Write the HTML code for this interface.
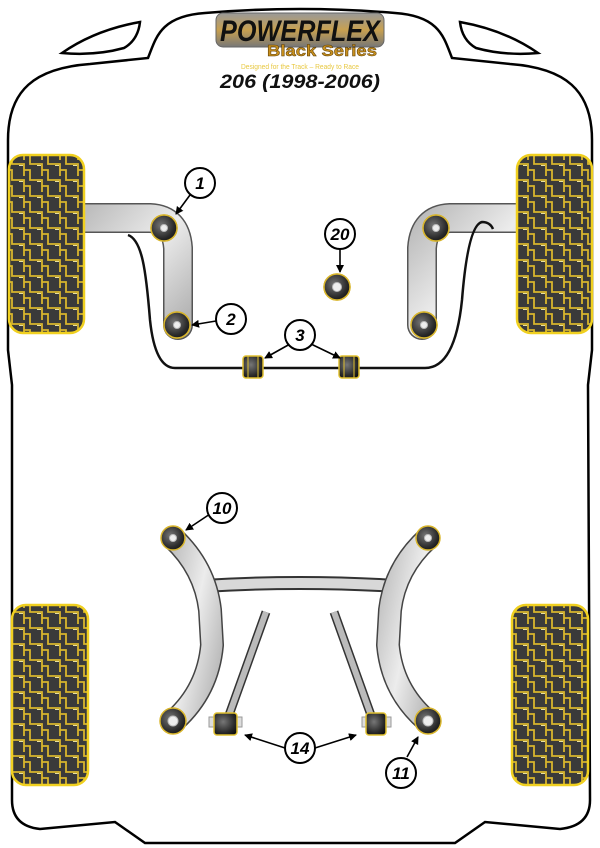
<!DOCTYPE html>
<html><head><meta charset="utf-8"><style>
html,body{margin:0;padding:0;background:#fff;}
svg{display:block;}
text{font-family:"Liberation Sans",sans-serif;}
</style></head><body>
<svg width="600" height="848" viewBox="0 0 600 848" xmlns="http://www.w3.org/2000/svg">
<defs>
<pattern id="tread" width="18" height="16" patternUnits="userSpaceOnUse">
<rect width="18" height="16" fill="#3a3a3a"/>
<path d="M0,4 H6 V10 H12 V16 M12,0 V4 H18 M6,10 V16" stroke="#d8b52c" stroke-width="1.8" fill="none"/>
<path d="M1,5.5 H5" stroke="#e8e0a0" stroke-width="1" />
</pattern>
<linearGradient id="arm" x1="0" y1="0" x2="1" y2="1">
<stop offset="0" stop-color="#bdbdbd"/><stop offset="0.5" stop-color="#ececec"/><stop offset="1" stop-color="#b5b5b5"/>
</linearGradient>
<radialGradient id="bush" cx="0.4" cy="0.4" r="0.7">
<stop offset="0" stop-color="#777"/><stop offset="0.7" stop-color="#2a2a2a"/><stop offset="1" stop-color="#111"/>
</radialGradient>
<linearGradient id="plate" x1="0" y1="0" x2="0" y2="1">
<stop offset="0" stop-color="#999"/><stop offset="0.5" stop-color="#c8a050"/><stop offset="1" stop-color="#777"/>
</linearGradient>
<marker id="ah" markerWidth="8" markerHeight="8" refX="7" refY="4" orient="auto" markerUnits="userSpaceOnUse">
<path d="M0,0 L8,4 L0,8 Z" fill="#000"/>
</marker>
</defs>

<path d="M8,140 C8,90 35,68 90,64 L148,58 C156,38 160,16 205,13 Q300,5 395,13 C440,16 444,38 452,58 L510,64 C565,68 592,90 592,140 L592,350 L588,385 L590,800 Q590,826 560,829 L485,822 L455,843 L145,843 L115,822 L40,829 Q12,826 12,800 L12,385 L8,350 Z" fill="none" stroke="#000" stroke-width="2.5"/>
<path d="M62,53 Q95,30 140,22 Q138,40 124,48 Q95,56 62,53 Z" fill="none" stroke="#000" stroke-width="2.5"/>
<path d="M538,53 Q505,30 460,22 Q462,40 476,48 Q505,56 538,53 Z" fill="none" stroke="#000" stroke-width="2.5"/>

<rect x="216" y="13" width="168" height="34" rx="7" fill="url(#plate)" stroke="#666" stroke-width="1"/>
<text x="300" y="41" font-size="30" font-weight="bold" font-style="italic" text-anchor="middle" fill="#111" textLength="160" lengthAdjust="spacingAndGlyphs">POWERFLEX</text>
<text x="322" y="56" font-size="16" font-weight="bold" text-anchor="middle" fill="#c8901e" stroke="#5a3a00" stroke-width="0.5" textLength="110" lengthAdjust="spacingAndGlyphs">Black Series</text>
<text x="300" y="69" font-size="7.5" text-anchor="middle" fill="#e8c840" textLength="118" lengthAdjust="spacingAndGlyphs">Designed for the Track – Ready to Race</text>
<text x="300" y="88" font-size="19" font-weight="bold" font-style="italic" text-anchor="middle" fill="#111" textLength="160" lengthAdjust="spacingAndGlyphs">206 (1998-2006)</text>

<path d="M80,218 L150,218 Q176,219 178,248 L178,325" fill="none" stroke="#555" stroke-width="30" stroke-linejoin="round" stroke-linecap="round"/>
<path d="M80,218 L150,218 Q176,219 178,248 L178,325" fill="none" stroke="url(#arm)" stroke-width="27" stroke-linejoin="round" stroke-linecap="round"/>
<path d="M520,218 L450,218 Q424,219 422,248 L422,325" fill="none" stroke="#555" stroke-width="30" stroke-linejoin="round" stroke-linecap="round"/>
<path d="M520,218 L450,218 Q424,219 422,248 L422,325" fill="none" stroke="url(#arm)" stroke-width="27" stroke-linejoin="round" stroke-linecap="round"/>

<rect x="9" y="155" width="75" height="178" rx="14" fill="url(#tread)" stroke="#f0d020" stroke-width="2.5"/>
<rect x="517" y="155" width="75" height="178" rx="14" fill="url(#tread)" stroke="#f0d020" stroke-width="2.5"/>
<rect x="12" y="605" width="76" height="180" rx="14" fill="url(#tread)" stroke="#f0d020" stroke-width="2.5"/>
<rect x="512" y="605" width="76" height="180" rx="14" fill="url(#tread)" stroke="#f0d020" stroke-width="2.5"/>

<path d="M128,235 C142,240 146,270 150,320 Q155,368 175,368 L425,368 Q455,368 462,300 Q468,225 482,222 Q490,222 493,229" fill="none" stroke="#111" stroke-width="2.5"/>

<g stroke="#d8b52c" stroke-width="1.5">
<circle cx="164" cy="228" r="13"/>
<circle cx="177" cy="325" r="13"/>
<circle cx="436" cy="228" r="13"/>
<circle cx="424" cy="325" r="13"/>
<circle cx="337" cy="287" r="13"/>
</g>
<g stroke="#d8b52c" stroke-width="1.5" fill="url(#bush)">
<circle cx="164" cy="228" r="13"/>
<circle cx="177" cy="325" r="13"/>
<circle cx="436" cy="228" r="13"/>
<circle cx="424" cy="325" r="13"/>
<circle cx="337" cy="287" r="13"/>
</g>
<g fill="#eee" stroke="#bbb" stroke-width="1">
<circle cx="164" cy="228" r="3.5"/><circle cx="177" cy="325" r="3.5"/>
<circle cx="436" cy="228" r="3.5"/><circle cx="424" cy="325" r="3.5"/>
<circle cx="337" cy="287" r="4.5"/>
</g>
<g stroke="#e0c030" stroke-width="1.5" fill="url(#bush)">
<rect x="243" y="356" width="20" height="22" rx="3"/>
<rect x="339" y="356" width="20" height="22" rx="3"/>
</g>
<g stroke="#e0c030" stroke-width="1"><line x1="248" y1="356" x2="248" y2="378"/><line x1="258" y1="356" x2="258" y2="378"/><line x1="344" y1="356" x2="344" y2="378"/><line x1="354" y1="356" x2="354" y2="378"/></g>

<path d="M203,586 Q300,580 397,586" fill="none" stroke="#333" stroke-width="14"/>
<path d="M203,586 Q300,580 397,586" fill="none" stroke="#d8d8d8" stroke-width="10"/>
<path d="M173,538 Q205,568 210,610 L212,645 Q208,690 175,720" fill="none" stroke="#444" stroke-width="24" stroke-linejoin="round"/>
<path d="M173,538 Q205,568 210,610 L212,645 Q208,690 175,720" fill="none" stroke="url(#arm)" stroke-width="21" stroke-linejoin="round"/>
<path d="M428,538 Q395,568 390,610 L388,645 Q392,690 426,720" fill="none" stroke="#444" stroke-width="24" stroke-linejoin="round"/>
<path d="M428,538 Q395,568 390,610 L388,645 Q392,690 426,720" fill="none" stroke="url(#arm)" stroke-width="21" stroke-linejoin="round"/>
<path d="M266,612 L228,718" fill="none" stroke="#333" stroke-width="9"/>
<path d="M266,612 L228,718" fill="none" stroke="#bbb" stroke-width="6"/>
<path d="M334,612 L372,718" fill="none" stroke="#333" stroke-width="9"/>
<path d="M334,612 L372,718" fill="none" stroke="#bbb" stroke-width="6"/>
<g stroke="#d8b52c" stroke-width="1.5" fill="url(#bush)">
<circle cx="173" cy="538" r="12"/><circle cx="428" cy="538" r="12"/>
<circle cx="173" cy="721" r="13"/><circle cx="428" cy="721" r="13"/>
</g>
<g fill="#eee" stroke="#bbb"><circle cx="173" cy="538" r="3.5"/><circle cx="428" cy="538" r="3.5"/><circle cx="173" cy="721" r="5"/><circle cx="428" cy="721" r="5"/></g>
<g fill="#ddd" stroke="#999"><rect x="209" y="717" width="6" height="10"/><rect x="236" y="717" width="6" height="10"/><rect x="362" y="717" width="6" height="10"/><rect x="385" y="717" width="6" height="10"/></g>
<g stroke="#e0c030" stroke-width="1.5" fill="url(#bush)">
<rect x="214" y="713" width="23" height="22" rx="3"/>
<rect x="366" y="713" width="20" height="22" rx="3"/>
</g>

<g stroke="#000" stroke-width="1.6" marker-end="url(#ah)">
<line x1="190" y1="195" x2="176" y2="214"/>
<line x1="216" y1="321" x2="192" y2="325"/>
<line x1="290" y1="344" x2="265" y2="358"/>
<line x1="311" y1="344" x2="340" y2="358"/>
<line x1="340" y1="249" x2="340" y2="272"/>
<line x1="210" y1="514" x2="186" y2="530"/>
<line x1="285" y1="748" x2="245" y2="735"/>
<line x1="315" y1="748" x2="356" y2="735"/>
<line x1="407" y1="757" x2="418" y2="737"/>
</g>
<g fill="#fff" stroke="#000" stroke-width="2">
<circle cx="200" cy="183" r="15"/><circle cx="231" cy="319" r="15"/><circle cx="300" cy="335" r="15"/>
<circle cx="340" cy="234" r="15"/><circle cx="222" cy="508" r="15"/><circle cx="300" cy="748" r="15"/>
<circle cx="401" cy="773" r="15"/>
</g>
<g font-size="17" font-weight="bold" font-style="italic" text-anchor="middle" fill="#000">
<text x="200" y="189">1</text><text x="231" y="325">2</text><text x="300" y="341">3</text>
<text x="340" y="240">20</text><text x="222" y="514">10</text><text x="300" y="754">14</text>
<text x="401" y="779">11</text>
</g>
</svg>
</body></html>
